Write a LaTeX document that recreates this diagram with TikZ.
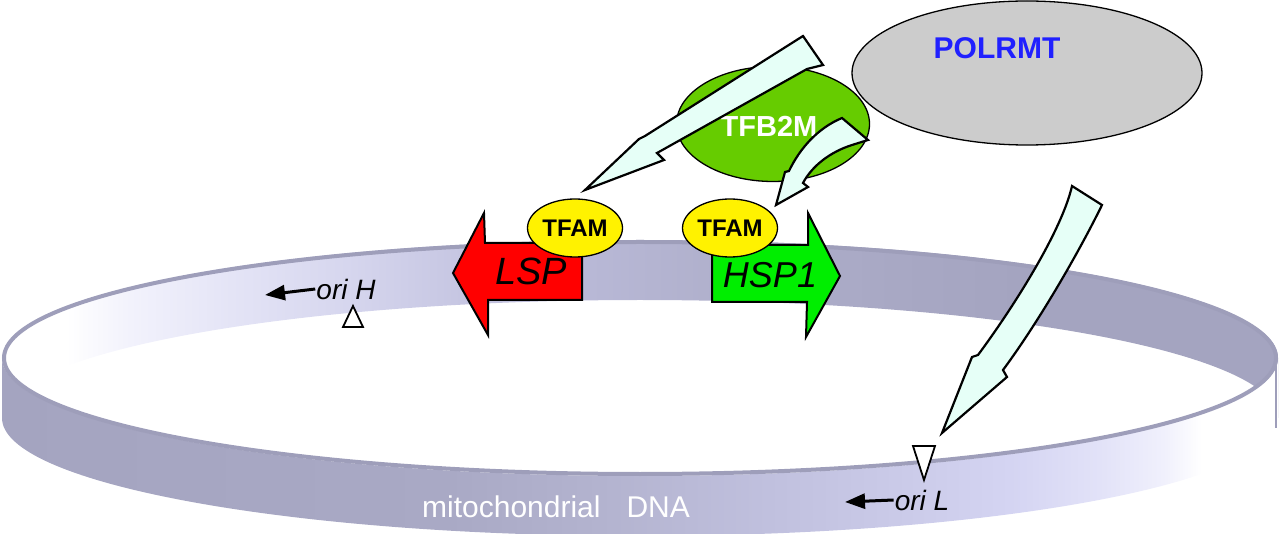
\documentclass[tikz,border=0pt]{standalone}
\usepackage{fontspec}
\setmainfont{Liberation Sans}
\usepackage{xcolor}
\usepackage{tikz}
\usetikzlibrary{shapes.geometric,arrows.meta}

\definecolor{rimcol}{HTML}{9E9EBA}
\definecolor{cyanfill}{HTML}{E6FFF7}
\definecolor{tfbgreen}{HTML}{66CC00}
\definecolor{hspgreen}{HTML}{00EE00}
\definecolor{polgrey}{HTML}{CCCCCC}
\definecolor{polblue}{HTML}{2020FF}
\definecolor{bwa}{HTML}{F2F2FC}
\definecolor{bwb}{HTML}{E4E4F6}
\definecolor{bwc}{HTML}{D6D6EE}
\definecolor{bwd}{HTML}{C6C6E2}
\definecolor{bwe}{HTML}{B8B8D6}
\definecolor{bwf}{HTML}{B0B0CC}
\definecolor{bwg}{HTML}{A8A8C4}
\definecolor{bwh}{HTML}{A4A4C0}
\definecolor{fwa}{HTML}{A4A4C0}
\definecolor{fwb}{HTML}{A9A9C5}
\definecolor{fwc}{HTML}{B4B4D0}
\definecolor{fwd}{HTML}{C0C0DE}
\definecolor{fwe}{HTML}{CACAE8}
\definecolor{fwf}{HTML}{D4D4F2}
\definecolor{fwg}{HTML}{E2E2F8}
\definecolor{fwh}{HTML}{F0F0FC}

\pgfdeclarehorizontalshading{backwall}{100bp}{color(0bp)=(white); color(27.5bp)=(white);
  color(30bp)=(bwa); color(34bp)=(bwb); color(38.5bp)=(bwc); color(43bp)=(bwd);
  color(48bp)=(bwe); color(53bp)=(bwf); color(60bp)=(bwg); color(65bp)=(bwh); color(100bp)=(bwh)}
\pgfdeclarehorizontalshading{frontwall}{100bp}{color(0bp)=(fwa); color(25bp)=(fwa);
  color(42.5bp)=(fwb); color(49bp)=(fwc); color(55bp)=(fwd); color(60bp)=(fwe);
  color(64.5bp)=(fwf); color(68bp)=(fwg); color(70.5bp)=(fwh); color(72bp)=(white); color(100bp)=(white)}

\begin{document}
\begin{tikzpicture}[x=1pt,y=-1pt,
	blob/.style={ellipse,draw=black,line width=1.3pt,inner sep=0pt},
	tfam/.style={blob,fill=yellow,minimum width=95,minimum height=58,font=\fontsize{24}{28}\selectfont\bfseries},
	promoter/.style={draw=black,line width=2pt,line join=miter},
	bigarrow/.style={draw=black,fill=cyanfill,line width=2.2pt,line join=miter},
	site/.style={draw=black,fill=white,line width=1.8pt,line join=miter},
	ori/.style={inner sep=1pt,font=\fontsize{28}{32}\selectfont\itshape},
	oriarrow/.style={line width=3pt,-{Triangle[length=20pt,width=15pt]}}]
	\useasboundingbox (0,0) rectangle (1280,534);

	\shade[shading=backwall] (2,358) arc[start angle=180,end angle=360,x radius=638,y radius=118]
		-- (1278,418) arc[start angle=0,end angle=-180,x radius=638,y radius=118] -- cycle;
	\shade[shading=frontwall] (2,358) arc[start angle=180,end angle=0,x radius=638,y radius=118]
		-- (1278,418) arc[start angle=0,end angle=180,x radius=638,y radius=118] -- cycle;
	\draw[rimcol,line width=4pt] (640,358) ellipse[x radius=636,y radius=116];
	\draw[rimcol,line width=1.2pt] (1276,366) -- (1276,428);
	\node[anchor=base west,inner sep=0pt,text=white,font=\fontsize{30}{34}\selectfont] (mtdna) at (422,517) {mitochondrial\hspace{26pt}DNA};

	\draw[promoter,fill=red] (582,243) -- (485,243) -- (484,213) -- (453,273) -- (488,335) -- (488,300) -- (582,300) -- cycle;
	\draw[promoter,fill=hspgreen] (712,245) -- (808,245) -- (808,213) -- (840,276) -- (806,337) -- (807,302) -- (712,302) -- cycle;
	\node[font=\fontsize{38}{42}\selectfont\itshape] (lsp) at (531,271) {LSP};
	\node[font=\fontsize{36}{40}\selectfont\itshape] (hsp) at (770,275) {HSP1};

	\node[tfam] (tfaml) at (575,228) {TFAM};
	\node[tfam] (tfamh) at (730,228) {TFAM};

	\node[blob,fill=polgrey,minimum width=350,minimum height=144] (polrmt) at (1027,73) {};
	\node[text=polblue,font=\fontsize{30}{34}\selectfont\bfseries] (polrmtlbl) at (997,48) {POLRMT};
	\node[blob,fill=tfbgreen,minimum width=193,minimum height=115] (tfb) at (773,124) {};
	\node[text=white,font=\fontsize{29}{33}\selectfont\bfseries] (tfblbl) at (769,126) {TFB2M};

	\draw[bigarrow] (803,36) -- (823,65) -- (807,69) -- (657,153) -- (664,160) -- (585,190) -- (639,139) -- (645,136) -- cycle;
	\draw[bigarrow] (842,118) -- (868,140) -- (852,145) .. controls (830,152) and (812,166) .. (803,183)
		-- (808,187) -- (776,205) -- (785,172) -- (789,171) .. controls (800,148) and (818,128) .. (842,118) -- cycle;
	\draw[bigarrow] (1072,186) -- (1102,205) .. controls (1080,250) and (1040,320) .. (1003,370)
		-- (1007,377) -- (942,433) -- (972,357) -- (978,355) .. controls (1015,305) and (1062,230) .. (1072,186) -- cycle;

	\draw[site] (353,306) -- (343,327) -- (363,327) -- cycle;
	\draw[site] (913,446) -- (935,446) -- (924,480) -- cycle;

	\node[ori] (orih) at (346,289) {ori H};
	\node[ori] (oril) at (922,500) {ori L};
	\coordinate (orihtip) at (265,295);
	\coordinate (oriltip) at (845,502);
	\draw[oriarrow] (orih.west) -- (orihtip);
	\draw[oriarrow] (oril.west) -- (oriltip);
\end{tikzpicture}
\end{document}
